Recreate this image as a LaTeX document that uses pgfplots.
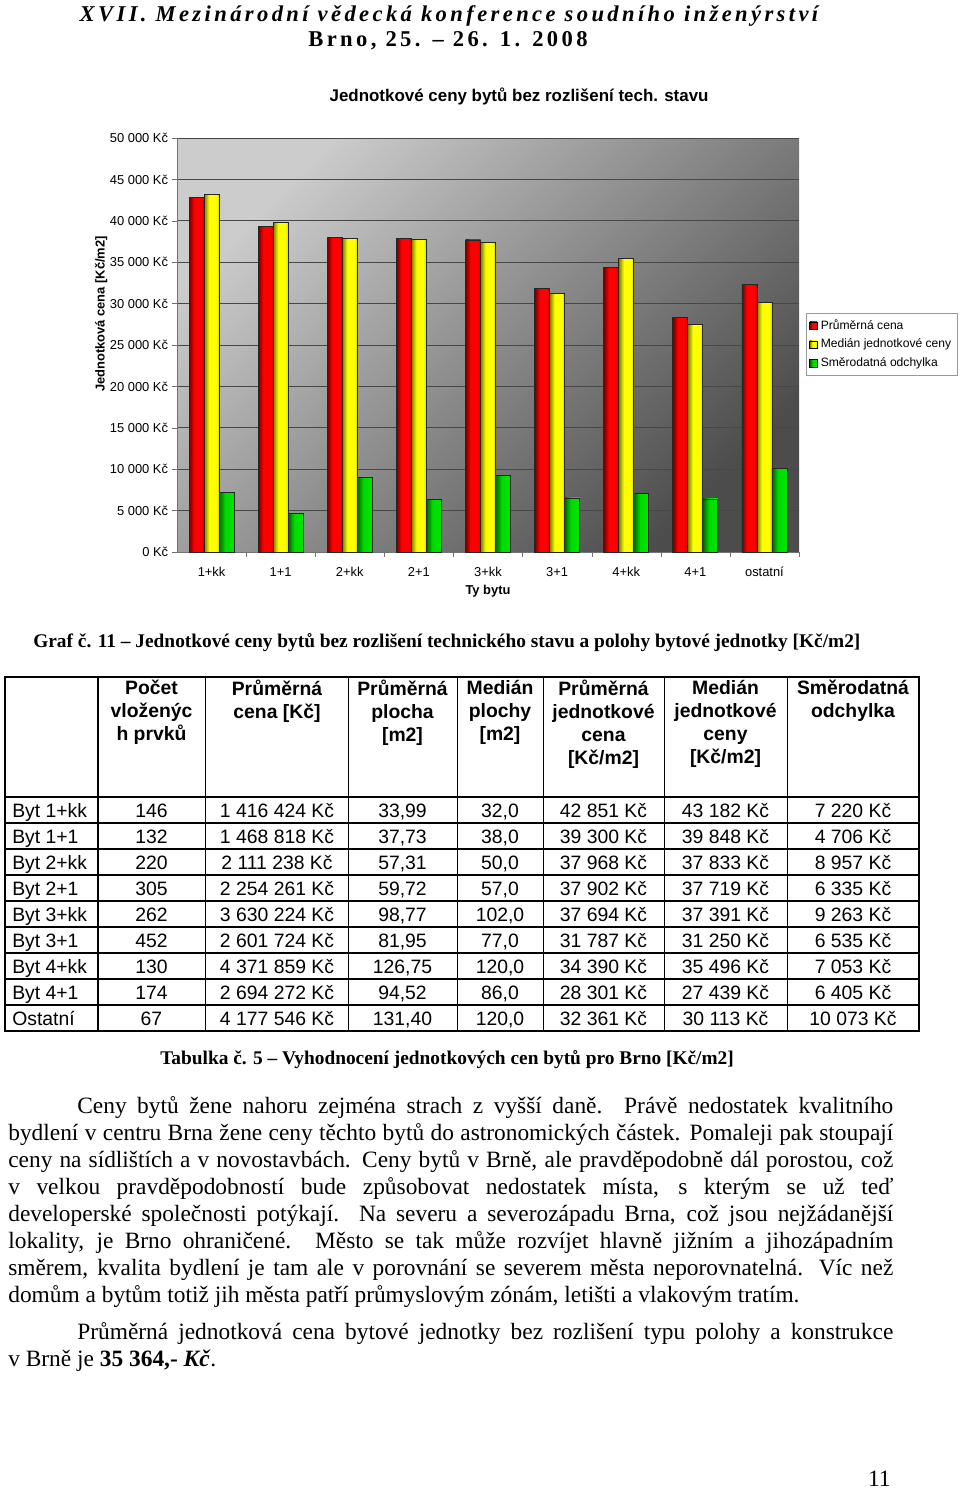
\documentclass[border=0pt]{standalone}
\usepackage{fontspec}
\setmainfont{Liberation Serif}
\newfontfamily\arial{Liberation Sans}
\newfontfamily\hdrfont[LetterSpace=15]{Liberation Serif}
\usepackage{pgfplots}
\usepackage{pgfplotstable}
\pgfplotsset{compat=1.18}

\pgfdeclarehorizontalshading{redbar}{100bp}{color(0bp)=(red!45!black); color(25bp)=(red!45!black); color(42bp)=(red); color(65bp)=(red); color(75bp)=(red!80!black); color(100bp)=(red!80!black)}
\pgfdeclarehorizontalshading{yellowbar}{100bp}{color(0bp)=(yellow!50!black); color(25bp)=(yellow!50!black); color(42bp)=(yellow); color(65bp)=(yellow); color(75bp)=(yellow!85!black); color(100bp)=(yellow!85!black)}
\pgfdeclarehorizontalshading{greenbar}{100bp}{color(0bp)=(green!40!black); color(25bp)=(green!40!black); color(45bp)=(green!85!black); color(100bp)=(green!95!black)}

\pgfplotstableread{
x prum med odch
0 42851 43182 7220
1 39300 39848 4706
2 37968 37833 8957
3 37902 37719 6335
4 37694 37391 9263
5 31787 31250 6535
6 34390 35496 7053
7 28301 27439 6405
8 32361 30113 10073
}\data

\newcommand{\trow}[9]{%
  \node[anchor=base west,inner sep=0] at (12,#1+7) {#2};
  \node[anchor=base,inner sep=0] at (151.5,#1+7) {#3};
  \node[anchor=base,inner sep=0] at (277,#1+7) {#4};
  \node[anchor=base,inner sep=0] at (402.5,#1+7) {#5};
  \node[anchor=base,inner sep=0] at (500,#1+7) {#6};
  \node[anchor=base,inner sep=0] at (603.5,#1+7) {#7};
  \node[anchor=base,inner sep=0] at (725.5,#1+7) {#8};
  \node[anchor=base,inner sep=0] at (853,#1+7) {#9};
}

\begin{document}
\begin{tikzpicture}
\path[use as bounding box] (0,0) rectangle (595.2pt,-923.18pt);

\begin{axis}[
  at={(109.74pt,-342.24pt)}, anchor=south west,
  scale only axis, width=385.64pt, height=256.68pt,
  xmin=-0.5, xmax=8.5, ymin=0, ymax=50000,
  enlargelimits=false,
  scaled y ticks=false,
  axis background/.style={top color=black!20, bottom color=black!70, shading angle=45},
  axis x line*=bottom, axis y line*=left,
  axis line style={draw=black!55,-},
  ymajorgrids, grid style={black!72, line width=0.5pt},
  ytick={0,5000,...,50000},
  yticklabels={0 Kč,5 000 Kč,10 000 Kč,15 000 Kč,20 000 Kč,25 000 Kč,30 000 Kč,35 000 Kč,40 000 Kč,45 000 Kč,50 000 Kč},
  xtick={0,...,8},
  xticklabels={1+kk,1+1,2+kk,2+1,3+kk,3+1,4+kk,4+1,ostatní},
  major x tick style={draw=none},
  minor xtick={0.5,1.5,...,8.5},
  tick align=outside, major tick length=3pt, minor tick length=3pt,
  tick style={black!55},
  tick label style={font=\arial\fontsize{8}{9}\selectfont, black},
  xticklabel style={yshift=-3pt},
  yticklabel style={xshift=1pt},
  xlabel={Ty bytu},
  xlabel style={at={(axis description cs:0.5,-0.094)}, anchor=center, font=\arial\bfseries\fontsize{8}{9}\selectfont},
  ylabel={Jednotková cena [Kč/m2]},
  ylabel style={at={(axis description cs:-0.122,0.575)}, anchor=center, font=\arial\bfseries\fontsize{8}{9}\selectfont},
  title={Jednotkové ceny bytů bez rozlišení tech. stavu},
  every axis title shift=0pt,
  title style={at={(axis description cs:0.55,1.101)}, anchor=center, font=\arial\bfseries\fontsize{10.5}{12}\selectfont},
  legend style={at={(1,0.502)}, anchor=west, xshift=4.3pt, font=\arial\fontsize{7.5}{9}\selectfont, draw=black!40, inner sep=2pt, row sep=0.5pt, cells={anchor=west}},
  mylegend/.style={legend image code/.code={\draw[##1,draw=black] (0pt,-2.3pt) rectangle (4.6pt,2.3pt);}},
  barbase/.style={ybar, bar width=9.3pt, draw=black!85, line width=0.45pt, forget plot},
  rbar/.style={barbase, shade, shading=redbar, bar shift=-9.3pt},
  ybarx/.style={barbase, shade, shading=yellowbar, bar shift=0pt},
  gbar/.style={barbase, shade, shading=greenbar, bar shift=9.3pt},
]
\pgfplotsinvokeforeach{0,...,8}{
  \addplot[rbar, restrict x to domain=#1:#1] table[x=x,y=prum]{\data};
  \addplot[ybarx, restrict x to domain=#1:#1] table[x=x,y=med]{\data};
  \addplot[gbar, restrict x to domain=#1:#1] table[x=x,y=odch]{\data};
}
\addlegendimage{mylegend, shade, shading=redbar, draw=black}
\addlegendimage{mylegend, shade, shading=yellowbar, draw=black}
\addlegendimage{mylegend, shade, shading=greenbar, draw=black}
\legend{Průměrná cena, Medián jednotkové ceny, Směrodatná odchylka}
\end{axis}

\begin{scope}[x=0.62pt,y=-0.62pt]
% header
\node[anchor=base,inner sep=0] at (449,22) {\hdrfont\bfseries\itshape\fontsize{14}{16}\selectfont XVII. Mezinárodní vědecká konference soudního inženýrství};
\node[anchor=base,inner sep=0] at (448,47) {\hdrfont\bfseries\fontsize{14}{16}\selectfont Brno, 25. – 26. 1. 2008};

% chart caption
\node[anchor=base west,inner sep=0] at (33,647) {\bfseries\fontsize{12}{14}\selectfont Graf č. 11 – Jednotkové ceny bytů bez rozlišení technického stavu a polohy bytové jednotky [Kč/m2]};

% table
\draw[line width=1.8pt] (5,677) rectangle (919,1031);
\draw[line width=1.8pt] (5,797) -- (919,797);
\foreach \y in {823,849,875,901,927,953,979,1005} \draw[line width=1.1pt] (5,\y)--(919,\y);
\draw[line width=1.4pt] (98,677)--(98,1031);
\foreach \x in {205,348,457,543,664,787} \draw[line width=0.6pt] (\x,677)--(\x,1031);

\begin{scope}[every node/.style={font=\arial\bfseries\fontsize{12}{14.26}\selectfont, align=center, anchor=north, inner sep=0}]
\node at (151.5,680) {Počet\\vloženýc\\h prvků};
\node at (277,680) {Průměrná\\cena [Kč]};
\node at (402.5,680) {Průměrná\\plocha\\{[m2]}};
\node at (500,680) {Medián\\plochy\\{[m2]}};
\node at (603.5,680) {Průměrná\\jednotkové\\cena\\{[Kč/m2]}};
\node at (725.5,680) {Medián\\jednotkové\\ceny\\{[Kč/m2]}};
\node at (853,680) {Směrodatná\\odchylka};
\end{scope}

\begin{scope}[every node/.style={font=\arial\fontsize{12}{14}\selectfont}]
\trow{810}{Byt 1+kk}{146}{1 416 424 Kč}{33,99}{32,0}{42 851 Kč}{43 182 Kč}{7 220 Kč}
\trow{836}{Byt 1+1}{132}{1 468 818 Kč}{37,73}{38,0}{39 300 Kč}{39 848 Kč}{4 706 Kč}
\trow{862}{Byt 2+kk}{220}{2 111 238 Kč}{57,31}{50,0}{37 968 Kč}{37 833 Kč}{8 957 Kč}
\trow{888}{Byt 2+1}{305}{2 254 261 Kč}{59,72}{57,0}{37 902 Kč}{37 719 Kč}{6 335 Kč}
\trow{914}{Byt 3+kk}{262}{3 630 224 Kč}{98,77}{102,0}{37 694 Kč}{37 391 Kč}{9 263 Kč}
\trow{940}{Byt 3+1}{452}{2 601 724 Kč}{81,95}{77,0}{31 787 Kč}{31 250 Kč}{6 535 Kč}
\trow{966}{Byt 4+kk}{130}{4 371 859 Kč}{126,75}{120,0}{34 390 Kč}{35 496 Kč}{7 053 Kč}
\trow{992}{Byt 4+1}{174}{2 694 272 Kč}{94,52}{86,0}{28 301 Kč}{27 439 Kč}{6 405 Kč}
\trow{1018}{Ostatní}{67}{4 177 546 Kč}{131,40}{120,0}{32 361 Kč}{30 113 Kč}{10 073 Kč}
\end{scope}

% table caption
\node[anchor=base west,inner sep=0] at (160,1064) {\bfseries\fontsize{12}{14}\selectfont Tabulka č. 5 – Vyhodnocení jednotkových cen bytů pro Brno [Kč/m2]};

% body text
\node[anchor=base west,inner sep=0] at (8,1113) {\parbox[t]{548.7pt}{\fontsize{14.5}{16.74}\selectfont\setlength{\parindent}{42.8pt}%
\indent Ceny bytů žene nahoru zejména strach z~vyšší daně. Právě nedostatek kvalitního\linebreak
bydlení v centru Brna žene ceny těchto bytů do astronomických částek. Pomaleji pak stoupají\linebreak
ceny na sídlištích a v novostavbách. Ceny bytů v Brně, ale pravděpodobně dál porostou, což\linebreak
v~velkou pravděpodobností bude způsobovat nedostatek místa, s~kterým se už teď\linebreak
developerské společnosti potýkají. Na severu a severozápadu Brna, což jsou nejžádanější\linebreak
lokality, je Brno ohraničené. Město se tak může rozvíjet hlavně jižním a jihozápadním\linebreak
směrem, kvalita bydlení je tam ale v porovnání se severem města neporovnatelná. Víc než\linebreak
domům a bytům totiž jih města patří průmyslovým zónám, letišti a vlakovým tratím.\par
\vspace{6.8pt}%
\indent Průměrná jednotková cena bytové jednotky bez rozlišení typu polohy a konstrukce\linebreak
v~Brně je \textbf{35~364,- \textit{Kč}}.}};

% page number
\node[anchor=base east,inner sep=0] at (891,1486) {\fontsize{14.5}{16}\selectfont 11};
\end{scope}
\end{tikzpicture}
\end{document}
